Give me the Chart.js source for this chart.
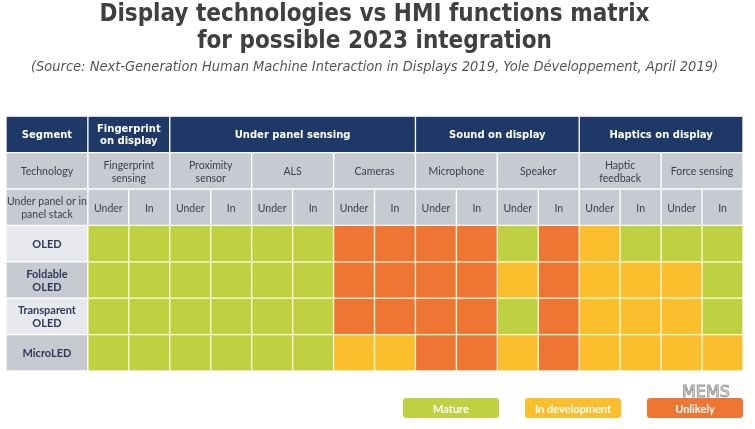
<!DOCTYPE html>
<html>
<head>
<meta charset="utf-8">
<script src="https://cdn.jsdelivr.net/npm/chart.js@4/dist/chart.umd.min.js"></script>
<style>
  html, body { margin: 0; padding: 0; background: #fff; }
  canvas { display: block; }
</style>
</head>
<body>
<canvas id="matrix" width="755" height="429"></canvas>
<script>
// header rows
const segments = ['Fingerprint\non display', 'Under panel sensing', 'Sound on display', 'Haptics on display'];
const segmentTechCount = [1, 3, 2, 2];
const technologies = ['Fingerprint\nsensing', 'Proximity\nsensor', 'ALS', 'Cameras', 'Microphone', 'Speaker', 'Haptic\nfeedback', 'Force sensing'];
const stackPositions = ['Under', 'In'];

// display rows, one status per (technology, stack) cell
const displays = ['OLED', 'Foldable\nOLED', 'Transparent\nOLED', 'MicroLED'];
const oledStatus        = ['M','M','M','M','M','M','U','U','U','U','M','U','D','M','M','M'];
const foldableStatus    = ['M','M','M','M','M','M','U','U','U','U','D','U','D','D','D','M'];
const transparentStatus = ['M','M','M','M','M','M','U','U','U','U','M','U','D','D','D','M'];
const microledStatus    = ['M','M','M','M','M','M','D','D','U','U','D','U','D','D','D','D'];

const statusKeys = ['M', 'D', 'U'];
const statusNames = ['Mature', 'In development', 'Unlikely'];
const statusColors = ['#bfd141', '#fbbf2e', '#ef7533'];

const rowLabels = ['Segment', 'Technology', 'Under panel or in\npanel stack', ...displays];
const displayStatus = [oledStatus, foldableStatus, transparentStatus, microledStatus];

const NAVY = '#1e3968';
const GREY = '#c8cad2';
const LIGHT = '#e8e9ee';

function cell(row, x0, x1, text, fill, style, line) {
    return { x: [x0, x1], y: rowLabels[row], text: text, fill: fill, style: style, line: line || '#ffffff' };
}

// the label column is two units wide, each stack cell one unit
const rows = [];

let seg = [cell(0, -2, 0, rowLabels[0], NAVY, 'head')];
let start = 0;
segments.forEach((s, i) => {
    seg.push(cell(0, start * 2, (start + segmentTechCount[i]) * 2, s, NAVY, 'head'));
    start += segmentTechCount[i];
});
rows.push(seg);

rows.push([cell(1, -2, 0, rowLabels[1], GREY, 'sub')]
    .concat(technologies.map((t, i) => cell(1, i * 2, i * 2 + 2, t, GREY, 'sub'))));

let stackRow = [cell(2, -2, 0, rowLabels[2], GREY, 'sub')];
technologies.forEach((t, i) => {
    stackPositions.forEach((p, j) => stackRow.push(cell(2, i * 2 + j, i * 2 + j + 1, p, GREY, 'sub')));
});
rows.push(stackRow);

displayStatus.forEach((statuses, d) => {
    const r = d + 3;
    const r0 = [cell(r, -2, 0, rowLabels[r], d % 2 === 0 ? LIGHT : GREY, 'row')];
    statuses.forEach((s, c) => {
        r0.push(cell(r, c, c + 1, '', statusColors[statusKeys.indexOf(s)], 'none', '#fbfadc'));
    });
    rows.push(r0);
});

const textStyles = {
    head: { font: 'bold 10px "DejaVu Sans"', color: '#ffffff', lh: 12 },
    sub: { font: '10.5px Lato', color: '#3c414e', lh: 13 },
    row: { font: 'bold 11px Lato', color: '#2e3a58', lh: 13 },
};

const cellText = {
    id: 'cellText',
    afterDatasetsDraw(chart) {
        const ctx = chart.ctx;
        ctx.save();
        ctx.textAlign = 'center';
        ctx.textBaseline = 'middle';
        chart.data.datasets.forEach((ds, i) => {
            chart.getDatasetMeta(i).data.forEach((el, j) => {
                const raw = ds.data[j];
                const st = textStyles[raw.style];
                if (!st || !raw.text) return;
                const p = el.getProps(['x', 'y', 'base'], true);
                const cx = (p.x + p.base) / 2;
                const lines = raw.text.split('\n');
                ctx.font = st.font;
                ctx.fillStyle = st.color;
                lines.forEach((ln, k) => {
                    ctx.fillText(ln, cx, p.y + (k - (lines.length - 1) / 2) * st.lh + 1);
                });
            });
        });
        ctx.restore();
    }
};

const statusLegend = {
    id: 'statusLegend',
    afterDraw(chart) {
        const ctx = chart.ctx;
        const area = chart.chartArea;
        const w = 96, h = 20, gap = 26;
        const y = area.bottom + 27;
        ctx.save();
        ctx.textAlign = 'center';
        ctx.textBaseline = 'middle';
        ctx.font = 'bold 11px Lato';
        statusNames.forEach((name, i) => {
            const x = area.right - (statusNames.length - i) * w - (statusNames.length - 1 - i) * gap;
            ctx.fillStyle = statusColors[i];
            ctx.beginPath();
            ctx.roundRect(x, y, w, h, 3);
            ctx.fill();
            ctx.fillStyle = '#ffffff';
            ctx.fillText(name, x + w / 2, y + h / 2 + 1);
        });
        // watermark
        ctx.font = '16px "DejaVu Sans"';
        ctx.lineWidth = 1;
        ctx.strokeStyle = 'rgba(110,110,110,0.7)';
        ctx.fillStyle = 'rgba(255,255,255,0.85)';
        ctx.fillText('MEMS', area.right - 37, y - 5);
        ctx.strokeText('MEMS', area.right - 37, y - 5);
        ctx.restore();
    }
};

new Chart(document.getElementById('matrix'), {
    type: 'bar',
    data: {
        labels: rowLabels,
        datasets: rows.map(r => ({
            data: r,
            grouped: false,
            barPercentage: 1,
            categoryPercentage: 1,
            backgroundColor: c => c.raw ? c.raw.fill : NAVY,
            borderColor: c => c.raw ? c.raw.line : '#fff',
            borderWidth: 1,
            borderSkipped: false,
        })),
    },
    options: {
        indexAxis: 'y',
        responsive: false,
        animation: false,
        layout: { padding: { left: 6, right: 12, bottom: 58 } },
        scales: {
            x: { type: 'linear', min: -2, max: 16, display: false },
            y: { type: 'category', display: false },
        },
        plugins: {
            legend: { display: false },
            tooltip: { enabled: false },
            title: {
                display: true,
                text: ['Display technologies vs HMI functions matrix', 'for possible 2023 integration'],
                color: '#404040',
                font: { family: '"DejaVu Sans Condensed", "DejaVu Sans"', size: 24, weight: 'bold', lineHeight: 1.1 },
                padding: { top: 2, bottom: 0 },
            },
            subtitle: {
                display: true,
                text: '(Source: Next-Generation Human Machine Interaction in Displays 2019, Yole Développement, April 2019)',
                color: '#555555',
                font: { family: '"DejaVu Sans Condensed", "DejaVu Sans"', size: 14.5, style: 'italic', lineHeight: 1.2 },
                padding: { top: 4, bottom: 40 },
            },
        },
    },
    plugins: [cellText, statusLegend],
});
</script>
</body>
</html>
